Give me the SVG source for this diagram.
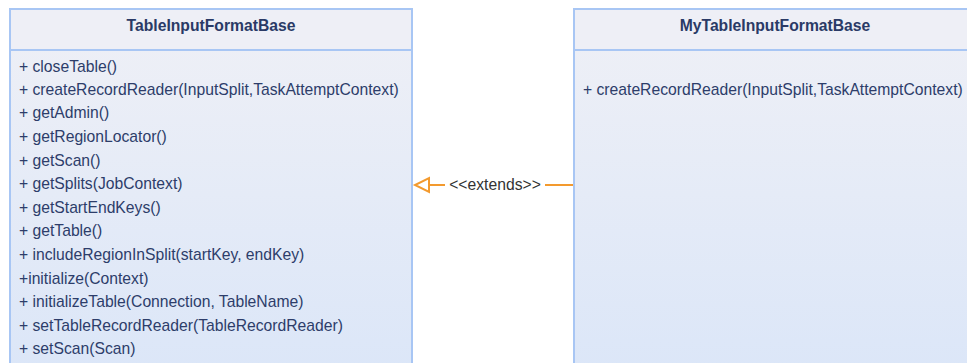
<svg xmlns="http://www.w3.org/2000/svg" width="967" height="363" viewBox="0 0 967 363">
<style>
.box{fill:url(#g);stroke:#a8c6f4;stroke-width:2}
.hdr{fill:#eeeff6;stroke:#a8c6f4;stroke-width:2}
.title{font-family:"Liberation Sans",Arial,sans-serif;font-size:15.7px;font-weight:bold;fill:#2a3a66;text-anchor:middle}
.m{font-family:"Liberation Sans",Arial,sans-serif;font-size:15.7px;fill:#2d3d6a}
.lbl{font-family:"Liberation Sans",Arial,sans-serif;font-size:15.7px;fill:#333}
.edge{stroke:#f39a2e;stroke-width:2;fill:none}
</style>
<defs>
<linearGradient id="g" x1="0" y1="0" x2="0" y2="1">
<stop offset="0" stop-color="#eff0f6"/>
<stop offset="1" stop-color="#dbe6f8"/>
</linearGradient>
</defs>
<rect width="967" height="363" fill="#ffffff"/>
<g id="TableInputFormatBase">
<rect class="box" x="10" y="9" width="402" height="370"/>
<rect class="hdr" x="10" y="9" width="402" height="41"/>
<text class="title" x="211" y="31">TableInputFormatBase</text>
<text class="m" x="19" y="72">+ closeTable()</text>
<text class="m" x="19" y="95">+ createRecordReader(InputSplit,TaskAttemptContext)</text>
<text class="m" x="19" y="118">+ getAdmin()</text>
<text class="m" x="19" y="142">+ getRegionLocator()</text>
<text class="m" x="19" y="166">+ getScan()</text>
<text class="m" x="19" y="189">+ getSplits(JobContext)</text>
<text class="m" x="19" y="213">+ getStartEndKeys()</text>
<text class="m" x="19" y="236">+ getTable()</text>
<text class="m" x="19" y="260">+ includeRegionInSplit(startKey, endKey)</text>
<text class="m" x="19" y="284">+initialize(Context)</text>
<text class="m" x="19" y="307">+ initializeTable(Connection, TableName)</text>
<text class="m" x="19" y="331">+ setTableRecordReader(TableRecordReader)</text>
<text class="m" x="19" y="354">+ setScan(Scan)</text>
</g>
<g id="MyTableInputFormatBase">
<rect class="box" x="574" y="9" width="402" height="370"/>
<rect class="hdr" x="574" y="9" width="402" height="41"/>
<text class="title" x="775" y="31">MyTableInputFormatBase</text>
<text class="m" x="583" y="95">+ createRecordReader(InputSplit,TaskAttemptContext)</text>
</g>
<g id="connectors">
<line class="edge" x1="573" y1="185" x2="545" y2="185"/>
<line class="edge" x1="445" y1="185" x2="429" y2="185"/>
<polygon class="edge" points="429,178 429,192 415,185"/>
<text class="lbl" x="495" y="190" text-anchor="middle">&lt;&lt;extends&gt;&gt;</text>
</g>
</svg>
